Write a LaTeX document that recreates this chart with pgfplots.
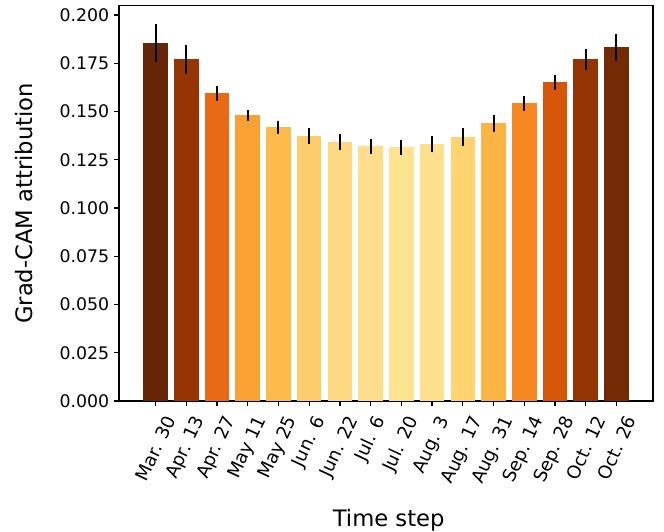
\documentclass[border=0pt]{standalone}
\usepackage{graphicx}
\usepackage{fontspec}
\setmainfont{DejaVu Sans}
\usepackage{pgfplots}
\pgfplotsset{compat=1.18}
\newcommand\rl[1]{\rotatebox{65}{#1}}
\definecolor{c1}{RGB}{102,37,6}
\definecolor{c2}{RGB}{150,52,4}
\definecolor{c3}{RGB}{232,106,21}
\definecolor{c4}{RGB}{250,161,51}
\definecolor{c5}{RGB}{253,187,76}
\definecolor{c6}{RGB}{254,205,107}
\definecolor{c7}{RGB}{254,216,130}
\definecolor{c8}{RGB}{254,222,140}
\definecolor{c9}{RGB}{254,227,145}
\definecolor{c10}{RGB}{254,223,139}
\definecolor{c11}{RGB}{254,211,112}
\definecolor{c12}{RGB}{252,181,69}
\definecolor{c13}{RGB}{245,136,32}
\definecolor{c14}{RGB}{213,86,9}
\definecolor{c15}{RGB}{148,51,4}
\definecolor{c16}{RGB}{116,42,5}
\pgfplotsset{mybar/.style={ybar, bar width=0.8, bar shift=0pt, fill=#1, draw=none,
  error bars/.cd, y dir=both, y explicit, error mark=none,
  error bar style={line width=1.5pt, black}}}
\begin{document}
\begin{tikzpicture}
\begin{axis}[
  scale only axis,
  width=400.5pt, height=296.5pt,
  xmin=-1.19, xmax=16.19,
  ymin=0, ymax=0.2048,
  axis line style={line width=0.9pt},
  tick style={black, line width=0.9pt},
  major tick length=3.75pt,
  tick align=outside,
  xtick pos=bottom, ytick pos=left,
  xtick={0,...,15},
  xticklabels={\rl{Mar. 30},\rl{Apr. 13},\rl{Apr. 27},\rl{May 11},\rl{May 25},\rl{Jun. 6},\rl{Jun. 22},\rl{Jul. 6},\rl{Jul. 20},\rl{Aug. 3},\rl{Aug. 17},\rl{Aug. 31},\rl{Sep. 14},\rl{Sep. 28},\rl{Oct. 12},\rl{Oct. 26}},
  xticklabel style={anchor=north, font=\fontsize{13.6}{16}\selectfont, yshift=-2.5pt},
  ytick={0,0.025,0.05,0.075,0.1,0.125,0.15,0.175,0.2},
  yticklabel style={font=\fontsize{13}{15}\selectfont, /pgf/number format/fixed, /pgf/number format/fixed zerofill, /pgf/number format/precision=3, /pgf/number format/assume math mode=true},
  scaled y ticks=false,
  ylabel={Grad-CAM attribution},
  ylabel style={font=\fontsize{17}{20}\selectfont, inner sep=0pt, anchor=south, at={(axis description cs:-0.161,0.5)}},
  xlabel={Time step},
  xlabel style={font=\fontsize{17}{20}\selectfont, inner sep=0pt, anchor=base, at={(axis description cs:0.505,-0.3162)}},
]
\addplot[mybar=c1] coordinates {(0,0.1853) +- (0,0.0098)};
\addplot[mybar=c2] coordinates {(1,0.1770) +- (0,0.0077)};
\addplot[mybar=c3] coordinates {(2,0.1594) +- (0,0.0039)};
\addplot[mybar=c4] coordinates {(3,0.1480) +- (0,0.0028)};
\addplot[mybar=c5] coordinates {(4,0.1418) +- (0,0.0035)};
\addplot[mybar=c6] coordinates {(5,0.1372) +- (0,0.0041)};
\addplot[mybar=c7] coordinates {(6,0.1341) +- (0,0.0040)};
\addplot[mybar=c8] coordinates {(7,0.1320) +- (0,0.0039)};
\addplot[mybar=c9] coordinates {(8,0.1315) +- (0,0.0039)};
\addplot[mybar=c10] coordinates {(9,0.1330) +- (0,0.0042)};
\addplot[mybar=c11] coordinates {(10,0.1366) +- (0,0.0047)};
\addplot[mybar=c12] coordinates {(11,0.1439) +- (0,0.0043)};
\addplot[mybar=c13] coordinates {(12,0.1542) +- (0,0.0038)};
\addplot[mybar=c14] coordinates {(13,0.1651) +- (0,0.0040)};
\addplot[mybar=c15] coordinates {(14,0.1770) +- (0,0.0056)};
\addplot[mybar=c16] coordinates {(15,0.1832) +- (0,0.0071)};
\end{axis}
\pgfresetboundingbox
\path[use as bounding box] (-89.25pt,-97.5pt) rectangle (408.75pt,300.8pt);
\end{tikzpicture}
\end{document}
